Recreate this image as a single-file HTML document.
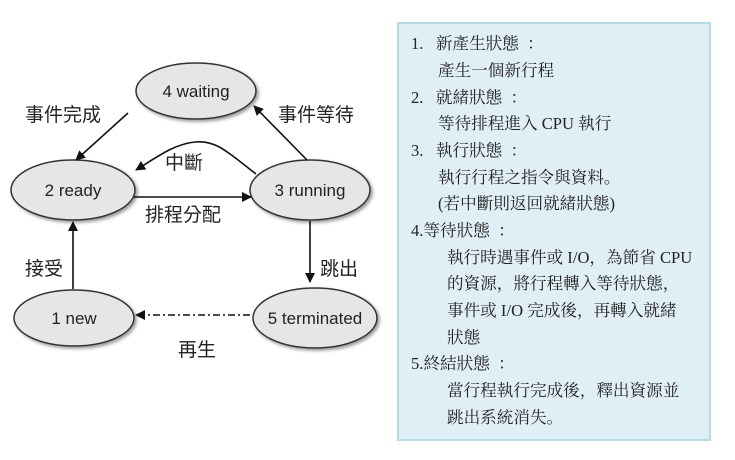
<!DOCTYPE html>
<html><head><meta charset="utf-8"><style>
body{margin:0;width:735px;height:460px;background:#fff;overflow:hidden;position:relative}
.box{position:absolute;left:397px;top:22px;width:310px;height:415px;background:#e0eff5;border:2px solid #b4dce6}
.t{position:absolute;font-family:"Liberation Serif","Noto Serif CJK SC","Noto Sans CJK TC",serif;font-size:16.6px;color:#222;white-space:nowrap;line-height:20px}
</style></head><body>
<svg width="395" height="460" style="position:absolute;left:0;top:0" font-family="'Liberation Sans','Noto Sans CJK TC',sans-serif">
<defs>
<marker id="a" markerWidth="10" markerHeight="10" refX="9" refY="5" orient="auto" markerUnits="userSpaceOnUse"><path d="M0,0 L10,5 L0,10 z" fill="#111"/></marker>
<filter id="s"><feDropShadow dx="2" dy="2" stdDeviation="1.5" flood-color="#999"/></filter>
</defs>
<g fill="#e6e6e6" stroke="#333" stroke-width="1.5" filter="url(#s)">
<ellipse cx="196" cy="91" rx="60" ry="28"/>
<ellipse cx="73" cy="190" rx="62" ry="30"/>
<ellipse cx="310" cy="190" rx="60" ry="30"/>
<ellipse cx="74" cy="318" rx="60" ry="28"/>
<ellipse cx="315" cy="318" rx="62" ry="30"/>
</g>
<g font-size="17" fill="#222" text-anchor="middle">
<text x="196" y="97">4 waiting</text>
<text x="73" y="196">2 ready</text>
<text x="310" y="196">3 running</text>
<text x="74" y="324">1 new</text>
<text x="315" y="324">5 terminated</text>
</g>
<g stroke="#111" stroke-width="1.6" fill="none" marker-end="url(#a)">
<line x1="128" y1="113" x2="76" y2="160"/>
<line x1="307" y1="160" x2="254" y2="106"/>
<path d="M256,174 C225,150 215,140 195,142 C175,144 160,155 136,170"/>
<line x1="134" y1="197" x2="251" y2="197"/>
<line x1="310" y1="221" x2="310" y2="282"/>
<line x1="73" y1="289" x2="73" y2="222"/>
<line x1="250" y1="315" x2="136" y2="315" stroke-dasharray="7,3,2,3"/>
</g>
<g font-size="19" fill="#222">
<text x="25" y="121">事件完成</text>
<text x="278" y="121">事件等待</text>
<text x="165" y="169">中斷</text>
<text x="145" y="221">排程分配</text>
<text x="25" y="275">接受</text>
<text x="320" y="275">跳出</text>
<text x="178" y="356">再生</text>
</g>
</svg>
<div class="box"></div>
<div class="t" style="left:411px;top:34px">1.&nbsp;&nbsp;&nbsp;新產生狀態&nbsp;&nbsp;：</div>
<div class="t" style="left:438px;top:61px">產生一個新行程</div>
<div class="t" style="left:411px;top:88px">2.&nbsp;&nbsp;&nbsp;就緒狀態&nbsp;&nbsp;：</div>
<div class="t" style="left:438px;top:114px">等待排程進入 CPU 執行</div>
<div class="t" style="left:411px;top:141px">3.&nbsp;&nbsp;&nbsp;執行狀態&nbsp;&nbsp;：</div>
<div class="t" style="left:438px;top:168px">執行行程之指令與資料。</div>
<div class="t" style="left:438px;top:194px">(若中斷則返回就緒狀態)</div>
<div class="t" style="left:411px;top:221px">4.等待狀態&nbsp;&nbsp;：</div>
<div class="t" style="left:447px;top:248px">執行時遇事件或 I/O，為節省 CPU</div>
<div class="t" style="left:447px;top:274px">的資源，將行程轉入等待狀態，</div>
<div class="t" style="left:447px;top:301px">事件或 I/O 完成後，再轉入就緒</div>
<div class="t" style="left:447px;top:328px">狀態</div>
<div class="t" style="left:411px;top:354px">5.終結狀態&nbsp;&nbsp;：</div>
<div class="t" style="left:447px;top:381px">當行程執行完成後，釋出資源並</div>
<div class="t" style="left:447px;top:408px">跳出系統消失。</div>
</body></html>
